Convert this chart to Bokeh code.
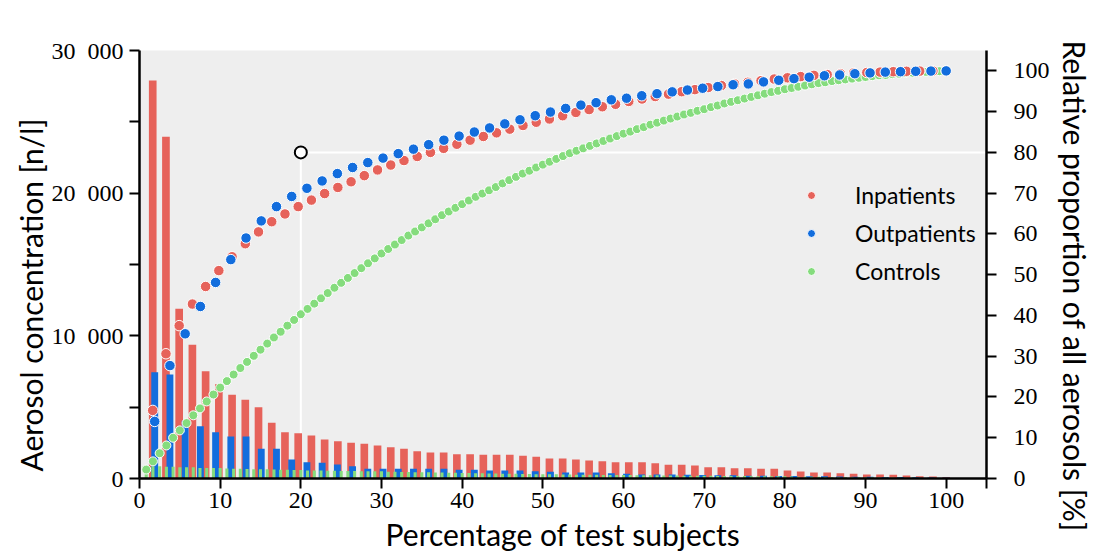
from bokeh.plotting import figure
from bokeh.models import Range1d, LinearAxis, FixedTicker, Legend, LegendItem, Title
from bokeh.embed import file_html
from bokeh.resources import INLINE

# ---------------- data ----------------
# individual aerosol concentrations [n/l], sorted descending
inpatients_conc = [27890, 23960, 11890, 9370, 7520, 6600, 5870, 5520, 5000, 3900,
                   3240, 3170, 3010, 2730, 2610, 2500, 2430, 2310, 2190, 2080,
                   1910, 1820, 1820, 1700, 1700, 1660, 1660, 1660, 1590, 1520,
                   1400, 1400, 1330, 1260, 1210, 1140, 1140, 1140, 1070, 960,
                   960, 910, 790, 790, 720, 720, 680, 680, 560, 490,
                   420, 420, 370, 330, 280, 280, 260, 210, 160, 140, 90]
outpatients_conc = [7450, 7290, 4050, 3670, 3240, 2940, 2940, 2080, 2080, 1330,
                    1140, 1100, 980, 860, 680, 680, 680, 680, 680, 680,
                    610, 610, 560, 560, 560, 510, 470, 420, 420, 420,
                    370, 330, 280, 280, 280, 260, 240, 230, 220, 200,
                    190, 180, 170, 160, 150, 140, 130, 120, 110, 100, 90, 70, 50]
controls_conc = [860, 860, 860, 820, 820, 780, 780, 780, 740, 740, 740, 740,
                 700, 690, 680, 660, 650, 640, 640, 630, 620, 610, 600, 600,
                 560, 560, 560, 550, 540, 530, 520, 520, 510, 510, 500, 500,
                 480, 470, 460, 450, 440, 440, 430, 420, 420, 410, 400, 390,
                 380, 370, 360, 350, 350, 340, 340, 330, 320, 310, 300, 300,
                 290, 290, 280, 280, 270, 260, 260, 260, 250, 250, 250, 240,
                 240, 230, 230, 220, 220, 210, 210, 210, 200, 200, 190, 190,
                 190, 180, 180, 170, 170, 170, 160, 160, 160, 150, 150, 150,
                 140, 130, 130, 120, 120, 110, 110, 100, 100, 90, 90, 90,
                 80, 80, 70, 70, 60, 60, 50, 50, 40, 40, 30, 30]

# cumulative relative proportion of all aerosols [%]
inpatients_cum = [16.7, 30.6, 37.5, 42.8, 47.1, 51.0, 54.4, 57.6, 60.5, 63.0,
                  64.9, 66.7, 68.3, 69.9, 71.4, 72.8, 74.3, 75.7, 76.9, 78.0,
                  79.0, 80.0, 81.0, 82.0, 83.0, 83.9, 84.8, 85.7, 86.6, 87.4,
                  88.2, 89.0, 89.8, 90.5, 91.2, 91.8, 92.5, 93.1, 93.7, 94.3,
                  94.9, 95.4, 95.9, 96.4, 96.8, 97.2, 97.6, 98.0, 98.3, 98.6,
                  98.9, 99.1, 99.3, 99.5, 99.6, 99.7, 99.8, 99.9, 99.95, 99.98, 100.0]
outpatients_cum = [14.0, 27.7, 35.5, 42.2, 48.1, 53.7, 59.0, 63.2, 66.7, 69.2,
                   71.2, 73.0, 74.8, 76.3, 77.5, 78.6, 79.7, 80.8, 81.9, 83.0,
                   84.0, 85.0, 86.0, 87.0, 88.0, 89.0, 89.9, 90.8, 91.6, 92.2,
                   92.9, 93.3, 93.9, 94.4, 94.85, 95.3, 95.75, 96.15, 96.6, 96.8,
                   97.3, 97.7, 98.1, 98.45, 98.8, 99.0, 99.3, 99.5, 99.7, 99.8,
                   99.9, 99.95, 100.0]
controls_cum = [2.2, 4.2, 6.2, 8.1, 10.0, 11.8, 13.6, 15.5, 17.2, 18.9, 20.6, 22.3,
                23.9, 25.5, 27.1, 28.6, 30.1, 31.6, 33.1, 34.6, 36.0, 37.5, 38.9, 40.3,
                41.6, 42.9, 44.2, 45.5, 46.8, 48.0, 49.2, 50.4, 51.6, 52.8, 54.0, 55.2,
                56.3, 57.4, 58.5, 59.6, 60.6, 61.6, 62.6, 63.6, 64.6, 65.5, 66.4, 67.3,
                68.2, 69.1, 69.9, 70.7, 71.5, 72.4, 73.2, 74.0, 74.8, 75.5, 76.3, 77.0,
                77.7, 78.4, 79.1, 79.8, 80.4, 81.0, 81.6, 82.2, 82.8, 83.4, 84.0, 84.6,
                85.1, 85.7, 86.2, 86.8, 87.3, 87.8, 88.3, 88.8, 89.3, 89.7, 90.2, 90.6,
                91.1, 91.5, 92.0, 92.4, 92.8, 93.2, 93.6, 94.0, 94.4, 94.8, 95.1, 95.5,
                95.8, 96.1, 96.4, 96.7, 97.0, 97.2, 97.5, 97.7, 97.9, 98.1, 98.3, 98.5,
                98.7, 98.9, 99.0, 99.2, 99.3, 99.45, 99.55, 99.65, 99.75, 99.85, 99.93, 100.0]

highlight_subjects = [20]     # 20 % of test subjects ...
highlight_aerosols = [80]     # ... emit 80 % of aerosols

x_ticks = [0, 10, 20, 30, 40, 50, 60, 70, 80, 90, 100, 105]
x_tick_labels = {105: ""}
left_ticks = [0, 10000, 20000, 30000]
left_minor = [5000, 15000, 25000]
left_tick_labels = {0: "0", 10000: "10\u2007000", 20000: "20\u2007000", 30000: "30\u2007000"}
right_ticks = [0, 10, 20, 30, 40, 50, 60, 70, 80, 90, 100]

labels = ["Inpatients", "Outpatients", "Controls"]
colors = ["#E6625A", "#126DDD", "#85DC7D"]
x_title = "Percentage of test subjects"
left_title = "Aerosol concentration [n/l]"
right_title = "Relative proportion of all aerosols [%]"


def ranks(n):
    return [100.0 * (i + 1) / n for i in range(n)]


x_in = ranks(len(inpatients_conc))
x_out = ranks(len(outpatients_conc))
x_ctl = ranks(len(controls_conc))

# ---------------- figure ----------------
TICK_FONT = "Liberation Serif"
TEXT_FONT = "Lato"

p = figure(width=1098, height=556, output_backend="svg", toolbar_location=None,
           x_range=Range1d(0, 105), y_range=Range1d(0, 30000),
           min_border_left=139, min_border_right=109, min_border_top=50, min_border_bottom=78,
           background_fill_color="#EEEEEE", border_fill_color="white",
           outline_line_color=None)
p.xgrid.visible = False
p.ygrid.visible = False
p.extra_y_ranges = {"pct": Range1d(0, 105)}

# white guide lines at 20 % / 80 %
p.line(x=[highlight_subjects[0], highlight_subjects[0]], y=[0, highlight_aerosols[0]],
       line_color="white", line_width=2, y_range_name="pct")
p.line(x=[highlight_subjects[0], 105], y=[highlight_aerosols[0], highlight_aerosols[0]],
       line_color="white", line_width=2, y_range_name="pct")

# bars
p.vbar(x=x_in, top=inpatients_conc, width=0.95, fill_color=colors[0], line_color=None)
p.vbar(x=x_out, top=outpatients_conc, width=0.85, fill_color=colors[1], line_color=None)
p.vbar(x=x_ctl, top=controls_conc, width=0.38, fill_color=colors[2], line_color=None)

# cumulative dots
r_ctl = p.scatter(x_ctl, controls_cum, size=9, fill_color=colors[2], line_color="white",
                  line_width=1, y_range_name="pct")
r_in = p.scatter(x_in, inpatients_cum, size=10.5, fill_color=colors[0], line_color="white",
                 line_width=1, y_range_name="pct")
r_out = p.scatter(x_out, outpatients_cum, size=10.5, fill_color=colors[1], line_color="white",
                  line_width=1, y_range_name="pct")

p.scatter(highlight_subjects, highlight_aerosols, size=12, fill_color="white",
          line_color="black", line_width=2, y_range_name="pct")


def style_axis(ax):
    ax.axis_line_width = 2.5
    ax.axis_line_color = "black"
    ax.major_tick_line_width = 2
    ax.major_tick_out = 10
    ax.major_tick_in = 0
    ax.minor_tick_line_width = 2
    ax.minor_tick_out = 10
    ax.minor_tick_in = 0
    ax.major_label_text_font = TICK_FONT
    ax.major_label_text_font_size = "24px"
    ax.major_label_text_color = "black"


xa = p.xaxis[0]
xa.ticker = FixedTicker(ticks=x_ticks)
xa.major_label_overrides = x_tick_labels
style_axis(xa)
xa.major_label_standoff = 4

ya = p.yaxis[0]
ya.ticker = FixedTicker(ticks=left_ticks, minor_ticks=left_minor)
ya.major_label_overrides = left_tick_labels
style_axis(ya)
ya.major_label_standoff = 6

ra = LinearAxis(y_range_name="pct", ticker=FixedTicker(ticks=right_ticks))
style_axis(ra)
ra.major_label_standoff = 17
p.add_layout(ra, "right")


# axis titles as side titles (allows shifting along the axis)
def make_title(text, align, offset, standoff):
    return Title(text=text, align=align, offset=offset, standoff=standoff,
                 text_font=TEXT_FONT, text_font_size="30px",
                 text_font_style="normal", text_color="black")


p.add_layout(make_title(x_title, "center", 0, 6), "below")
p.add_layout(make_title(left_title, "left", 7, 0), "left")
p.add_layout(make_title(right_title, "left", -10, 8), "right")

legend = Legend(items=[LegendItem(label=labels[0], renderers=[r_in]),
                       LegendItem(label=labels[1], renderers=[r_out]),
                       LegendItem(label=labels[2], renderers=[r_ctl])],
                location=(662, 193), padding=0, margin=0,
                background_fill_alpha=0, border_line_color=None,
                glyph_width=20, glyph_height=24, label_height=24, spacing=10,
                label_standoff=34, label_text_font=TEXT_FONT,
                label_text_font_size="23px", label_text_color="black")
p.add_layout(legend)

open("out.html", "w").write(file_html(p, INLINE))
